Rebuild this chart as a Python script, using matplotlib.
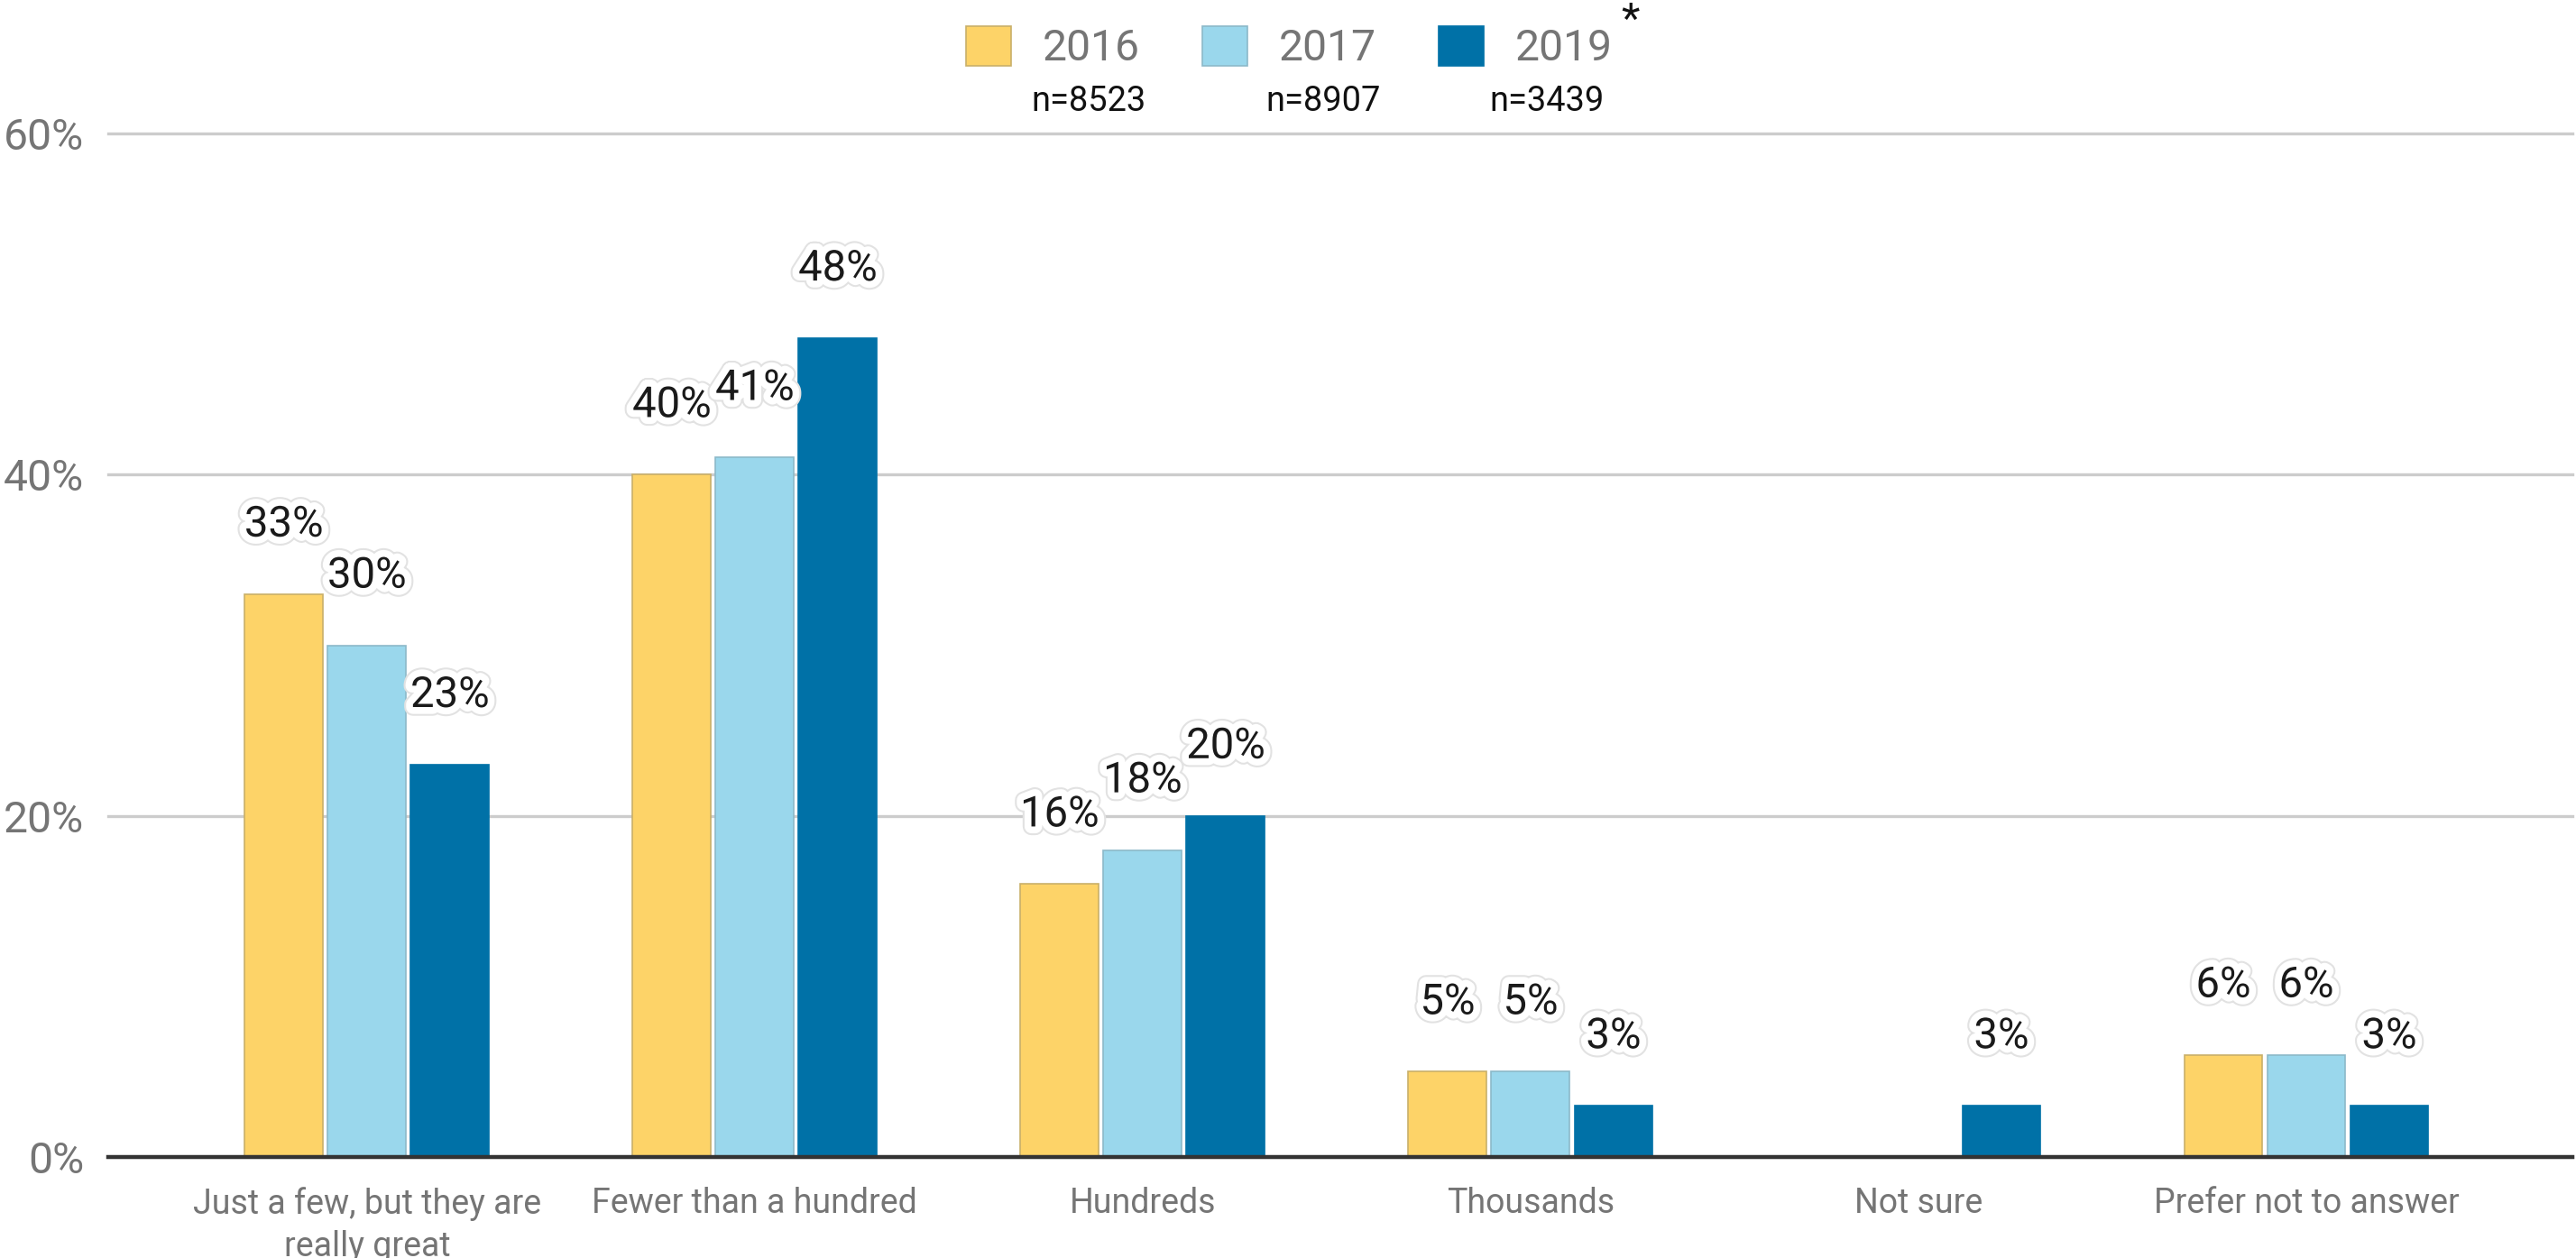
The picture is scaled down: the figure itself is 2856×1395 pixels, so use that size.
import matplotlib
matplotlib.use('Agg')
import matplotlib.pyplot as plt
import matplotlib.patheffects as pe
import numpy as np

plt.rcParams['font.family'] = ['Roboto', 'DejaVu Sans']

categories = ['Just a few, but they are\nreally great', 'Fewer than a hundred', 'Hundreds',
              'Thousands', 'Not sure', 'Prefer not to answer']
years = ['2016', '2017', '2019']
sample_sizes = ['n=8523', 'n=8907', 'n=3439']
pct_2016 = [33, 40, 16, 5, 0, 6]
pct_2017 = [30, 41, 18, 5, 0, 6]
pct_2019 = [23, 48, 20, 3, 3, 3]
y_ticks = [0, 20, 40, 60]

colors = ['#FDD368', '#9AD7EC', '#0071A7']
edges = ['#c9b06a', '#8cb9c9', '#0071A7']

W, H, DPI = 2856, 1395, 200
fig = plt.figure(figsize=(W / DPI, H / DPI), dpi=DPI)
ax = fig.add_axes([120 / W, 1 - 1283 / H, (2852 - 120) / W, (1283 - 148) / H])

x = np.arange(len(categories))
width = 0.202
step = 0.214
halo = [pe.Stroke(linewidth=7, foreground='#e2e2e2'),
        pe.Stroke(linewidth=5.5, foreground='white'),
        pe.Normal()]

for i, vals in enumerate([pct_2016, pct_2017, pct_2019]):
    pos = x + (i - 1) * step
    ax.bar(pos, vals, width, color=colors[i], edgecolor=edges[i], linewidth=0.6,
           label=years[i], zorder=2)
    for p, v in zip(pos, vals):
        if v > 0:
            ax.annotate(f'{v}%', (p, v), xytext=(0, 23), textcoords='offset points',
                        ha='center', va='baseline', fontsize=17, color='#1a1a1a',
                        path_effects=halo, zorder=4)

ax.set_xlim(-0.667, 5.686)
ax.set_ylim(0, 60)
ax.set_yticks(y_ticks)
ax.set_yticklabels([f'{v}%' for v in y_ticks])
ax.set_xticks(x)
ax.set_xticklabels(categories)
for lbl in ax.get_xticklabels():
    lbl.set_linespacing(1.32)

ax.tick_params(axis='y', length=0, pad=9.7, labelsize=17.3, labelcolor='#757575')
ax.tick_params(axis='x', length=0, pad=12, labelsize=13.5, labelcolor='#757575')
ax.yaxis.grid(True, color='#cccccc', linewidth=1.2)
ax.set_axisbelow(True)
for line in ax.get_ygridlines():
    line.set_clip_on(False)
ax.axhline(0, color='#333333', linewidth=1.6, zorder=3, clip_on=False)
for s in ax.spines.values():
    s.set_visible(False)

ax.legend(loc='center', bbox_to_anchor=(0.5005, 0.962), bbox_transform=fig.transFigure,
          ncol=3, frameon=False, fontsize=17.3, handlelength=1.04, handleheight=1.04,
          handletextpad=0.73, columnspacing=1.43, labelcolor='#757575')

# sample sizes under the legend entries
for xpos, txt in zip([0.4226, 0.5136, 0.6005], sample_sizes):
    fig.text(xpos, 0.919, txt, ha='center', va='center', fontsize=13.7, color='#111111')
fig.text(0.633, 0.984, '*', ha='center', va='center', fontsize=17, color='#111111')

fig.savefig('out.png', dpi=DPI)
